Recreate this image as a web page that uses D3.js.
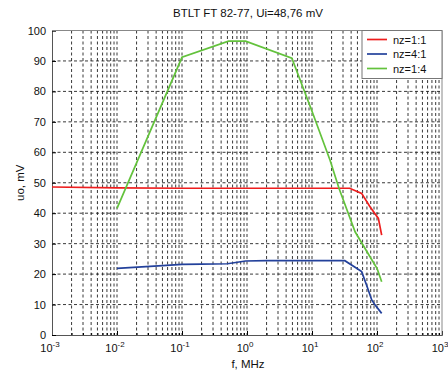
<!DOCTYPE html>
<html lang="en">
<head>
  <meta charset="UTF-8">
  <title>BTLT FT 82-77</title>
  <style>
    body { margin: 0; background: #fff; }
    text { font-family: "Liberation Sans", Arial, sans-serif; }
  </style>
</head>
<body>
  <svg id="svg" width="448" height="372"></svg>

  <script src="https://d3js.org/d3.v7.min.js"></script>
  <script>
    // data (f in MHz, uo in mV)
    const seriesNames = ['nz=1:1', 'nz=4:1', 'nz=1:4']
    const seriesColors = ['#ee1d1d', '#23419b', '#63c23c']

    const redF = [0.001, 0.01, 0.1, 1, 10, 38, 58, 78, 105, 118]
    const redU = [48.6, 48.3, 48.2, 48.2, 48.2, 48.2, 46.5, 42.1, 38.3, 32.8]

    const blueF = [0.01, 0.05, 0.1, 0.2, 0.5, 0.95, 2, 10, 32, 48.6, 58, 69, 83, 93, 118]
    const blueU = [21.9, 22.8, 23.2, 23.3, 23.4, 24.3, 24.4, 24.4, 24.4, 21.9, 20.8, 16.4, 11.5, 9.9, 7.1]

    const greenF = [0.01, 0.1, 0.52, 0.95, 4.9, 10, 18.9, 26, 46, 78, 100, 118]
    const greenU = [41.6, 91.2, 96.5, 96.5, 90.9, 73.5, 57.5, 48.2, 33.9, 25.7, 21.9, 17.5]

    const yTicks = [0, 10, 20, 30, 40, 50, 60, 70, 80, 90, 100]
    const xExps = [-3, -2, -1, 0, 1, 2, 3]

    const margin = { top: 30.5, right: 6, bottom: 37, left: 52 }
    const width = 448 - margin.left - margin.right
    const height = 372 - margin.top - margin.bottom

    const xscale = d3.scaleLog().domain([1e-3, 1e3]).range([margin.left, margin.left + width])
    const yscale = d3.scaleLinear().domain([0, 100]).range([margin.top + height, margin.top])

    const svg = d3.select('#svg')

    // minor x positions 2..9 in each decade
    const minorX = []
    xExps.slice(0, -1).forEach(e => {
      for (let k = 2; k <= 9; k++) minorX.push(k * Math.pow(10, e))
    })

    const grid = svg.append('g')
    grid.selectAll('.gx')
      .data(minorX.concat(xExps.slice(1, -1).map(e => Math.pow(10, e))))
      .enter().append('line')
      .attr('x1', d => xscale(d)).attr('x2', d => xscale(d))
      .attr('y1', margin.top).attr('y2', margin.top + height)
      .attr('stroke', '#222').attr('stroke-width', 0.9)
      .attr('stroke-dasharray', '3,2.5')
    grid.selectAll('.gy')
      .data(yTicks.slice(1, -1))
      .enter().append('line')
      .attr('x1', margin.left).attr('x2', margin.left + width)
      .attr('y1', d => yscale(d)).attr('y2', d => yscale(d))
      .attr('stroke', '#222').attr('stroke-width', 0.9)
      .attr('stroke-dasharray', '3,2.5')

    // axes (ticks pointing inward like the original)
    const bottomAxis = d3.axisBottom(xscale)
      .tickValues(xExps.map(e => Math.pow(10, e)))
      .tickSize(-4).tickFormat('')
    svg.append('g')
      .attr('transform', `translate(0, ${margin.top + height})`)
      .call(bottomAxis)
      .call(g => g.select('.domain').attr('stroke', '#555'))
    svg.append('g')
      .attr('transform', `translate(0, ${margin.top + height})`)
      .call(d3.axisBottom(xscale).tickValues(minorX).tickSize(-2).tickFormat(''))
      .call(g => g.select('.domain').remove())

    const leftAxis = d3.axisLeft(yscale).tickValues(yTicks).tickSize(-4).tickPadding(6)
    svg.append('g')
      .attr('transform', `translate(${margin.left}, 0)`)
      .call(leftAxis)
      .call(g => g.select('.domain').attr('stroke', '#555'))
      .selectAll('text')
      .attr('font-size', 11).attr('fill', '#111')
      .attr('font-family', '"Liberation Sans", Arial, sans-serif')

    // top and right box edges
    svg.append('line')
      .attr('x1', margin.left).attr('x2', margin.left + width)
      .attr('y1', margin.top).attr('y2', margin.top)
      .attr('stroke', '#888')
    svg.append('line')
      .attr('x1', margin.left + width).attr('x2', margin.left + width)
      .attr('y1', margin.top).attr('y2', margin.top + height)
      .attr('stroke', '#888')

    // x tick labels 10^n
    const xl = svg.append('g')
    xExps.forEach(e => {
      const t = xl.append('text')
        .attr('x', xscale(Math.pow(10, e)) - 2)
        .attr('y', margin.top + height + 17)
        .attr('text-anchor', 'middle')
        .attr('font-size', 11).attr('fill', '#111')
      t.append('tspan').text('10')
      t.append('tspan').attr('dy', -5).attr('font-size', 8).text(e)
    })

    // lines
    const line = d3.line().x(d => xscale(d[0])).y(d => yscale(d[1]))
    const series = [
      d3.zip(redF, redU),
      d3.zip(blueF, blueU),
      d3.zip(greenF, greenU)
    ]
    svg.append('g').selectAll('path')
      .data(series)
      .enter().append('path')
      .attr('d', line)
      .attr('fill', 'none')
      .attr('stroke', (d, i) => seriesColors[i])
      .attr('stroke-width', 1.7)

    // legend
    const lg = svg.append('g').attr('transform', `translate(362, ${margin.top})`)
    lg.append('rect')
      .attr('width', margin.left + width - 362).attr('height', 48)
      .attr('fill', '#fff').attr('stroke', '#777')
    seriesNames.forEach((name, i) => {
      const yy = 9 + i * 14.5
      lg.append('line')
        .attr('x1', 5).attr('x2', 25).attr('y1', yy).attr('y2', yy)
        .attr('stroke', seriesColors[i]).attr('stroke-width', 1.7)
      lg.append('text')
        .attr('x', 31).attr('y', yy + 4)
        .attr('font-size', 11).attr('fill', '#111')
        .text(name)
    })

    // titles
    svg.append('text')
      .attr('x', 248).attr('y', 17)
      .attr('text-anchor', 'middle').attr('font-size', 11.5).attr('fill', '#111')
      .text('BTLT FT 82-77, Ui=48,76 mV')
    svg.append('text')
      .attr('x', 248).attr('y', 368)
      .attr('text-anchor', 'middle').attr('font-size', 11.5).attr('fill', '#111')
      .text('f, MHz')
    svg.append('text')
      .attr('transform', `translate(24, ${yscale(50)}) rotate(-90)`)
      .attr('text-anchor', 'middle').attr('font-size', 11.5).attr('fill', '#111')
      .text('uo, mV')
  </script>
</body>
</html>
